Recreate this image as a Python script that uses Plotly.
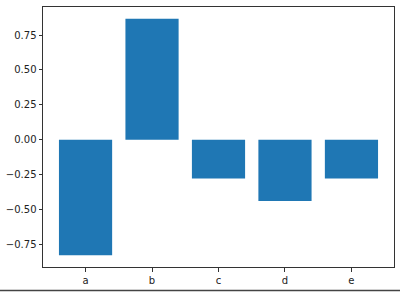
import plotly.graph_objects as go

categories = ["a", "b", "c", "d", "e"]
values = [-0.829, 0.867, -0.279, -0.44, -0.279]
ytick_vals = [-0.75, -0.5, -0.25, 0.0, 0.25, 0.5, 0.75]

W, H = 400, 292
ml, mr, mt, mb = 43, 6, 7, 25

fig = go.Figure(go.Bar(x=list(range(len(categories))), y=values, width=0.8,
                       marker=dict(color="#1f77b4", line=dict(width=0))))

axis_common = dict(showline=True, linecolor="#333333", linewidth=1, mirror=True,
                   ticks="outside", ticklen=3.5, tickcolor="#333333", tickwidth=1,
                   showgrid=False, zeroline=False,
                   tickfont=dict(family="DejaVu Sans", size=10, color="#222222"))

fig.update_layout(
    width=W, height=H,
    margin=dict(l=ml, r=mr, t=mt, b=mb),
    paper_bgcolor="white", plot_bgcolor="white",
    showlegend=False,
    xaxis=dict(range=[-0.64, 4.64], tickvals=list(range(len(categories))),
               ticktext=categories, **axis_common),
    yaxis=dict(range=[-0.914, 0.952], tickvals=ytick_vals, tickformat=".2f",
               **axis_common),
)

pw = W - ml - mr
ph = H - mt - mb
y_line = -(290.5 - (mt + ph)) / ph
fig.add_shape(type="line", xref="paper", yref="paper",
              x0=-ml / pw, x1=(W - ml) / pw, y0=y_line, y1=y_line,
              line=dict(color="#444444", width=1.5))

fig.write_html("out.html")
